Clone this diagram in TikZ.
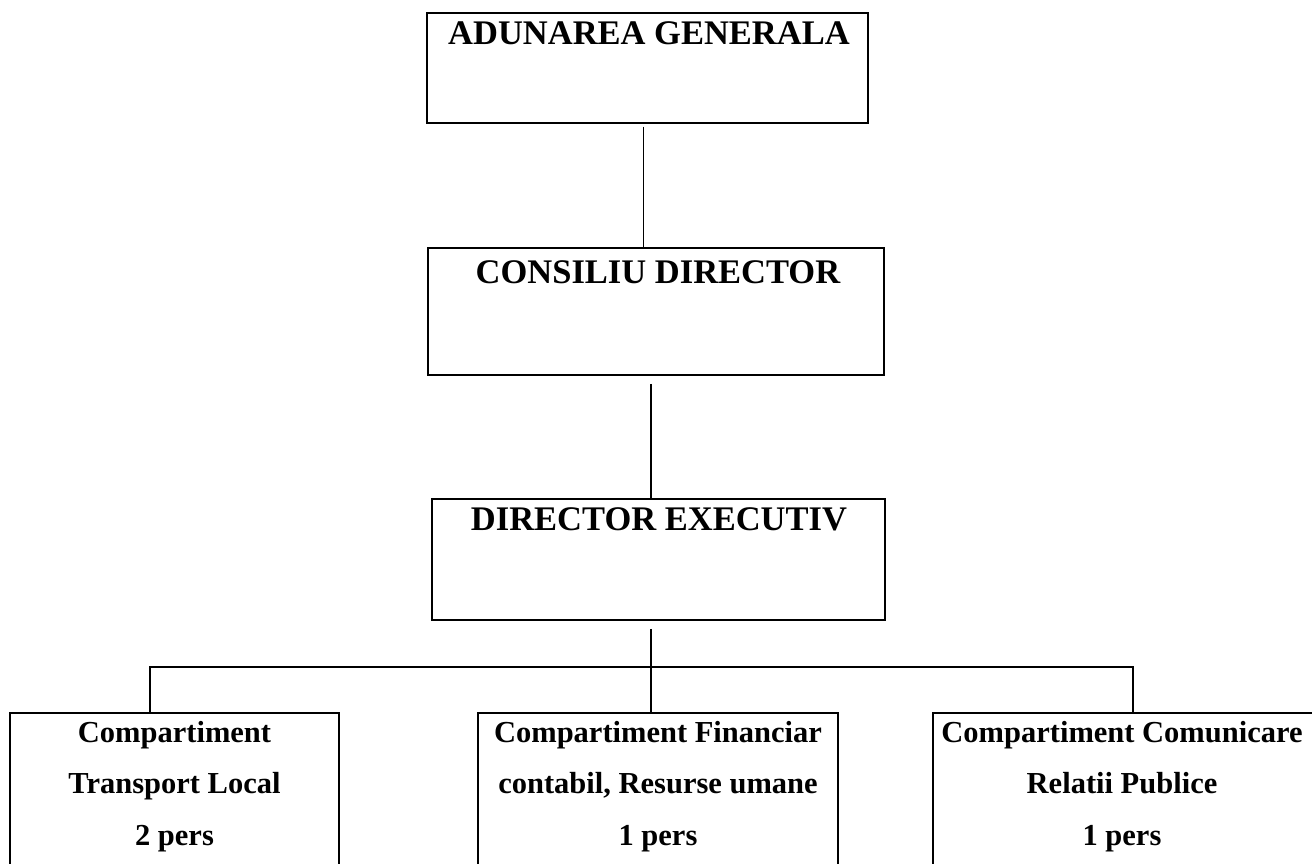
\documentclass[tikz,border=0pt]{standalone}
\usepackage{fontspec}
\setmainfont{Liberation Serif}
\begin{document}
\begin{tikzpicture}[x=1pt,y=-1pt,
  box/.style={draw=black, line width=1.5pt, rectangle, inner sep=0pt},
  conn/.style={draw=black, line width=1.8pt},
  title/.style={anchor=base, inner sep=0pt, font=\fontsize{34.5}{40}\selectfont\bfseries},
  sub/.style={anchor=base, inner sep=0pt, font=\fontsize{30.5}{36}\selectfont\bfseries}]
\useasboundingbox[fill=white] (0,0) rectangle (1312,864);

% boxes
\node[box, minimum width=441pt, minimum height=110pt] (b1) at (647.5,68) {};
\node[box, minimum width=456pt, minimum height=127pt] (b2) at (656,311.5) {};
\node[box, minimum width=453pt, minimum height=121pt] (b3) at (658.5,559.5) {};
\node[box, minimum width=329pt, minimum height=187pt] (c1) at (174.5,806.5) {};
\node[box, minimum width=360pt, minimum height=187pt] (c2) at (658,806.5) {};
\node[box, minimum width=390pt, minimum height=187pt] (c3) at (1128,806.5) {};

% titles
\node[title] (t1) at (649,45) {ADUNAREA GENERALA};
\node[title] (t2) at (658,283) {CONSILIU DIRECTOR};
\node[title] (t3) at (659,530) {DIRECTOR EXECUTIV};

\node[sub] (c1a) at (174.5,742) {Compartiment};
\node[sub] (c1b) at (174.5,793) {Transport Local};
\node[sub] (c1c) at (174.5,845) {2 pers};
\node[sub] (c2a) at (658,742) {Compartiment Financiar};
\node[sub] (c2b) at (658,793) {contabil, Resurse umane};
\node[sub] (c2c) at (658,845) {1 pers};
\node[sub] (c3a) at (1122,742) {Compartiment Comunicare};
\node[sub] (c3b) at (1122,793) {Relatii Publice};
\node[sub] (c3c) at (1122,845) {1 pers};

% connectors
\coordinate (bus) at (651,667);
\draw[conn] ([xshift=-4pt,yshift=-3pt]b1.south) -- ([xshift=-4pt]b1.south |- b2.north);
\draw[conn] ([xshift=-5pt,yshift=-8pt]b2.south) -- ([xshift=-5pt]b2.south |- b3.north);
\draw[conn] ([xshift=-7.5pt,yshift=-8pt]b3.south) -- ([xshift=-7.5pt]b3.south |- c2.north);
\draw[conn] ([xshift=-24.5pt]c1.north) |- (bus) -| ([xshift=5pt]c3.north);
\end{tikzpicture}
\end{document}
